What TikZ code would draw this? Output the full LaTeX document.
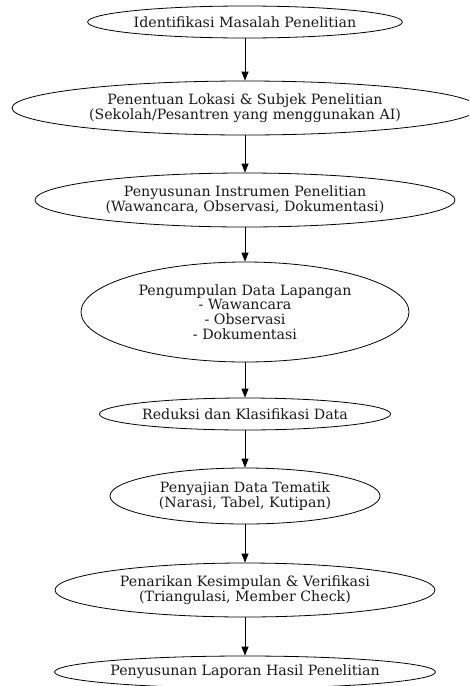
\documentclass[tikz,border=0pt]{standalone}
\usepackage{fontspec}
\setmainfont{DejaVu Serif}
\usetikzlibrary{shapes.geometric,arrows.meta}
\begin{document}
\begin{tikzpicture}[x=1pt,y=-1pt,
  stage/.style={draw=black,line width=0.8pt,ellipse,inner sep=0pt,align=center,
    font=\fontsize{14.2}{14.6}\selectfont,text=black!90},
  flow/.style={draw=black,line width=0.8pt,-{Triangle[length=9pt,width=7pt]}}]
\useasboundingbox (0,0) rectangle (469,686);
\clip (0,0) rectangle (469,686);
\node[stage,minimum width=314pt,minimum height=32pt] (n1) at (245,22) {Identifikasi Masalah Penelitian};
\node[stage,minimum width=466pt,minimum height=54pt] (n2) at (245,108) {Penentuan Lokasi \& Subjek Penelitian\\(Sekolah/Pesantren yang menggunakan AI)};
\node[stage,minimum width=420pt,minimum height=54pt] (n3) at (245,200) {Penyusunan Instrumen Penelitian\\(Wawancara, Observasi, Dokumentasi)};
\node[stage,minimum width=328pt,minimum height=100pt] (n4) at (245,312) {Pengumpulan Data Lapangan\\- Wawancara\\- Observasi\\- Dokumentasi};
\node[stage,minimum width=290pt,minimum height=32pt] (n5) at (245,414) {Reduksi dan Klasifikasi Data};
\node[stage,minimum width=270pt,minimum height=56pt] (n6) at (245,496) {Penyajian Data Tematik\\(Narasi, Tabel, Kutipan)};
\node[stage,minimum width=380pt,minimum height=54pt] (n7) at (245,590) {Penarikan Kesimpulan \& Verifikasi\\(Triangulasi, Member Check)};
\node[stage,minimum width=376pt,minimum height=32pt] (n8) at (245,672) {Penyusunan Laporan Hasil Penelitian};
\draw[flow] (n1) -- (n2);
\draw[flow] (n2) -- (n3);
\draw[flow] (n3) -- (n4);
\draw[flow] (n4) -- (n5);
\draw[flow] (n5) -- (n6);
\draw[flow] (n6) -- (n7);
\draw[flow] (n7) -- (n8);
\end{tikzpicture}
\end{document}
